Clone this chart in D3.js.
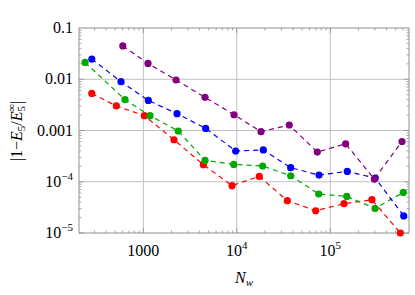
<!DOCTYPE html>
<html><head><meta charset="utf-8">
<script src="https://cdn.jsdelivr.net/npm/d3@7"></script>
<style>body{margin:0;background:#fff}svg{display:block}</style>
</head><body>
<svg id="c" width="415" height="295"></svg>
<script>
const redX = [281, 514, 1025, 2128, 4385, 8890, 17400, 34700, 69800, 140000, 279000, 561000];
const redY = [0.0053, 0.00301, 0.00195, 0.00066, 0.000215, 8.4e-5, 0.000127, 4.27e-5, 2.72e-5, 3.73e-5, 4.47e-5, 1.0e-5];
const greenX = [238, 637, 1180, 2365, 4570, 9270, 18900, 37700, 75200, 150000, 301000, 604000];
const greenY = [0.0213, 0.00399, 0.00195, 0.000977, 0.000261, 0.000218, 0.000203, 0.000131, 5.77e-5, 5.18e-5, 3.02e-5, 6.2e-5];
const blueX = [281, 577, 1131, 2293, 4645, 9720, 19200, 37700, 75700, 152000, 303000, 610000];
const blueY = [0.0248, 0.00895, 0.00386, 0.00213, 0.0011, 0.000398, 0.000417, 0.000188, 0.000135, 0.000159, 0.000118, 2.15e-5];
const purpleX = [603, 1122, 2238, 4570, 9340, 18150, 36400, 72600, 146000, 296000, 585000];
const purpleY = [0.0446, 0.0204, 0.00966, 0.00443, 0.00203, 0.000949, 0.00128, 0.00038, 0.00055, 0.000113, 0.00061];

const xTickVals = [1000, 1e4, 1e5];
const xTickLabels = [["1000", ""], ["10", "4"], ["10", "5"]];
const yTickVals = [0.1, 0.01, 0.001, 1e-4, 1e-5];
const yTickLabels = [["0.1", ""], ["0.01", ""], ["0.001", ""], ["10", "\u22124"], ["10", "\u22125"]];

const series = [
  {x: redX, y: redY, color: "#ff0000"},
  {x: greenX, y: greenY, color: "#00a800"},
  {x: blueX, y: blueY, color: "#0000ff"},
  {x: purpleX, y: purpleY, color: "#800080"}
];

const L = 79, R = 409, T = 28, B = 233;
const x = d3.scaleLog().domain([205, 695000]).range([L, R]);
const y = d3.scaleLog().domain([1e-5, 0.1]).range([B, T]);
const svg = d3.select("#c");
const font = "'Liberation Serif', 'Times New Roman', serif";
const gridCol = "#c0c0c0", frameCol = "#909090";

// grid
const g = svg.append("g");
xTickVals.forEach(v => g.append("line").attr("x1", x(v)).attr("x2", x(v)).attr("y1", T).attr("y2", B)
  .attr("stroke", gridCol).attr("stroke-width", 1));
yTickVals.filter(v => v < 0.1 && v > 1e-5).forEach(v => g.append("line").attr("x1", L).attr("x2", R).attr("y1", y(v)).attr("y2", y(v))
  .attr("stroke", gridCol).attr("stroke-width", 1));

// frame
svg.append("rect").attr("x", L).attr("y", T).attr("width", R - L).attr("height", B - T)
  .attr("fill", "none").attr("stroke", frameCol).attr("stroke-width", 1);

// ticks
const xMinor = [], yMinor = [];
for (let e = 2; e <= 5; e++) for (let m = 1; m <= 9; m++) { const v = m * Math.pow(10, e); if (v >= 205 && v <= 695000) xMinor.push(v); }
for (let e = -5; e <= -2; e++) for (let m = 1; m <= 9; m++) { const v = m * Math.pow(10, e); if (v >= 1e-5 && v <= 0.1) yMinor.push(v); }
const tk = svg.append("g").attr("stroke", frameCol).attr("stroke-width", 0.8);
xMinor.forEach(v => {
  const len = xTickVals.includes(v) ? 5 : 2.5;
  tk.append("line").attr("x1", x(v)).attr("x2", x(v)).attr("y1", B).attr("y2", B - len);
  tk.append("line").attr("x1", x(v)).attr("x2", x(v)).attr("y1", T).attr("y2", T + len);
});
yMinor.forEach(v => {
  const len = (Math.abs(Math.log10(v) - Math.round(Math.log10(v))) < 1e-9) ? 5 : 2.5;
  tk.append("line").attr("x1", L).attr("x2", L + len).attr("y1", y(v)).attr("y2", y(v));
  tk.append("line").attr("x1", R).attr("x2", R - len).attr("y1", y(v)).attr("y2", y(v));
});

// tick labels
xTickVals.forEach((v, i) => {
  const t = svg.append("text").attr("x", x(v)).attr("y", 256).attr("text-anchor", "middle")
    .attr("font-family", font).attr("font-size", 16).attr("fill", "#000");
  t.append("tspan").text(xTickLabels[i][0]);
  if (xTickLabels[i][1]) t.append("tspan").attr("dy", -7).attr("font-size", 11).text(xTickLabels[i][1]);
});
yTickVals.forEach((v, i) => {
  const t = svg.append("text").attr("x", 73).attr("y", y(v) + 5).attr("text-anchor", "end")
    .attr("font-family", font).attr("font-size", 16).attr("fill", "#000");
  t.append("tspan").text(yTickLabels[i][0]);
  if (yTickLabels[i][1]) t.append("tspan").attr("dy", -7).attr("font-size", 11).text(yTickLabels[i][1]);
});

// axis titles
const xt = svg.append("text").attr("x", 244).attr("y", 283).attr("text-anchor", "middle")
  .attr("font-family", font).attr("font-size", 16).attr("fill", "#000");
xt.append("tspan").attr("font-style", "italic").text("N");
xt.append("tspan").attr("font-style", "italic").attr("font-size", 11).attr("dy", 3).text("w");

const yt = svg.append("text").attr("transform", "translate(22,131) rotate(-90)").attr("text-anchor", "middle")
  .attr("font-family", font).attr("font-size", 16).attr("fill", "#000");
yt.append("tspan").text("|1\u2212");
yt.append("tspan").attr("font-style", "italic").text("E");
yt.append("tspan").attr("font-size", 11).attr("dy", 3).text("5");
yt.append("tspan").attr("dy", -3).text("/");
yt.append("tspan").attr("font-style", "italic").text("E");
yt.append("tspan").attr("font-size", 11).attr("dy", 3).text("5");
yt.append("tspan").attr("font-size", 11).attr("dx", -6).attr("dy", -10).text("\u221e");
yt.append("tspan").attr("dy", 7).text("|");

// series
const line = d3.line().x(d => x(d[0])).y(d => y(d[1]));
series.forEach(s => {
  const pts = s.x.map((v, i) => [v, s.y[i]]);
  svg.append("path").attr("d", line(pts)).attr("fill", "none").attr("stroke", s.color)
    .attr("stroke-width", 1.2).attr("stroke-dasharray", "5,4");
  svg.append("g").selectAll("circle").data(pts).join("circle")
    .attr("cx", d => x(d[0])).attr("cy", d => y(d[1])).attr("r", 3.6).attr("fill", s.color);
});
</script>
</body></html>
